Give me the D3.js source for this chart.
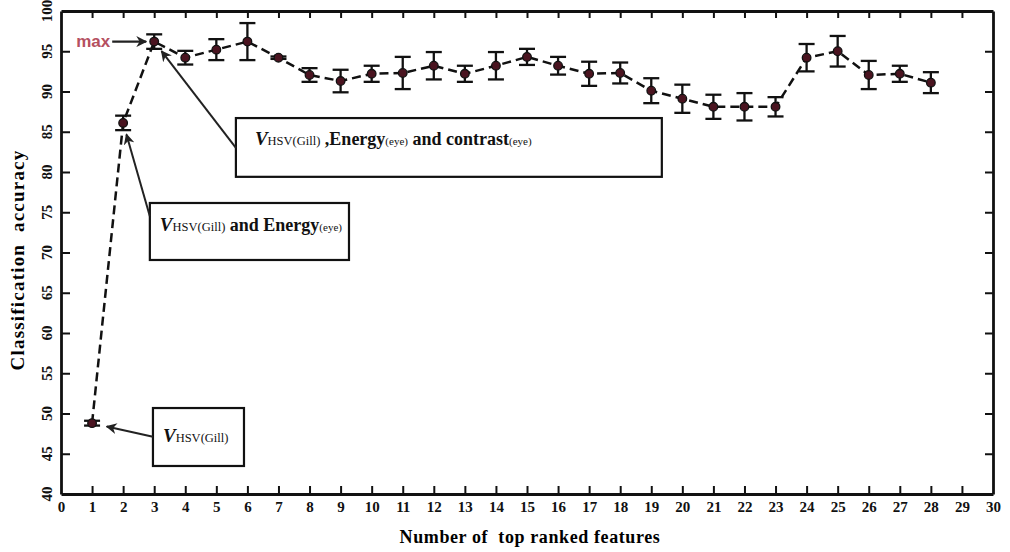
<!DOCTYPE html>
<html>
<head>
<meta charset="utf-8">
<script src="https://cdn.jsdelivr.net/npm/d3@7"></script>
<style>
  body { margin: 0; background: #fff; }
  svg { display: block; font-family: "Liberation Serif", "DejaVu Serif", serif; }
  .pre { white-space: pre; }
</style>
</head>
<body>
<div class="main"></div>
<script>
// data
const features = d3.range(1, 29);
const accuracy = [48.8, 86.1, 96.2, 94.2, 95.2, 96.2, 94.2, 92.05, 91.3, 92.2,
                  92.3, 93.2, 92.2, 93.2, 94.3, 93.2, 92.2, 92.3, 90.1, 89.1,
                  88.1, 88.1, 88.1, 94.2, 95.0, 92.05, 92.2, 91.1];
const errors   = [0.3, 0.9, 0.9, 0.85, 1.3, 2.3, 0.15, 0.85, 1.4, 1.0,
                  2.0, 1.7, 1.0, 1.7, 1.0, 1.1, 1.5, 1.3, 1.55, 1.75,
                  1.5, 1.7, 1.2, 1.7, 1.9, 1.75, 1.0, 1.3];
const xTicks = d3.range(0, 31);
const yTicks = d3.range(40, 101, 5);

// annotation boxes in data units, pointing at a feature index
const notes = [
  { x0: 5.63, x1: 19.34, y0: 86.7, y1: 79.4, from: 83.0, target: 3, pad: 19,
    parts: [["V", 19, "italic", "bold"], ["HSV(Gill)", 12.5, "normal", "normal"], [" ,Energy", 18, "normal", "bold"],
            ["(eye)", 11, "normal", "normal"], [" and contrast", 18, "normal", "bold"], ["(eye)", 11, "normal", "normal"]],
    textY: 83.3 },
  { x0: 2.86, x1: 9.27, y0: 76.15, y1: 69.07, from: 74.5, target: 2, pad: 10,
    parts: [["V", 19, "italic", "bold"], ["HSV(Gill)", 12.5, "normal", "normal"], [" and Energy", 18, "normal", "bold"],
            ["(eye)", 11, "normal", "normal"]],
    textY: 72.7 },
  { x0: 2.96, x1: 5.89, y0: 50.68, y1: 43.48, from: 47.1, target: 1, pad: 10,
    parts: [["V", 19, "italic", "bold"], ["HSV(Gill)", 12.5, "normal", "normal"]],
    textY: 46.4 }
];

const width = 1010, height = 552;
const x = d3.scaleLinear().domain([0, 30]).range([61, 993]);
const y = d3.scaleLinear().domain([40, 100]).range([494, 11]);

const svg = d3.select('.main').append('svg')
    .attr("width", width)
    .attr("height", height);

svg.append("defs").append("marker")
    .attr("id", "head")
    .attr("viewBox", "0 0 10 10")
    .attr("refX", 9).attr("refY", 5)
    .attr("markerWidth", 11).attr("markerHeight", 11)
    .attr("markerUnits", "userSpaceOnUse")
    .attr("orient", "auto")
  .append("path")
    .attr("d", "M0,0 L10,5 L0,10 L3,5 Z")
    .attr("fill", "#222");

// axes, ticks pointing inwards
const bottomAxis = svg.append("g").attr("transform", "translate(0," + y(40) + ")")
    .call(d3.axisBottom(x).tickValues(xTicks).tickSize(-8).tickSizeOuter(0).tickPadding(7));
const topAxis = svg.append("g").attr("transform", "translate(0," + y(100) + ")")
    .call(d3.axisTop(x).tickValues(xTicks).tickSize(-7).tickSizeOuter(0).tickFormat(""));
const leftAxis = svg.append("g").attr("transform", "translate(" + x(0) + ",0)")
    .call(d3.axisLeft(y).tickValues(yTicks).tickSize(-9).tickSizeOuter(0).tickFormat(""));
const rightAxis = svg.append("g").attr("transform", "translate(" + x(30) + ",0)")
    .call(d3.axisRight(y).tickValues(yTicks).tickSize(-8).tickSizeOuter(0).tickFormat(""));

[bottomAxis, topAxis, leftAxis, rightAxis].forEach(function(g) {
  g.select(".domain").attr("stroke", "#111").attr("stroke-width", 2.8);
  g.selectAll(".tick line").attr("stroke", "#111").attr("stroke-width", 2);
  g.selectAll(".tick text").attr("fill", "#111")
    .attr("font-family", "Liberation Serif").attr("font-weight", "bold").attr("font-size", 15);
});
// drop the end ticks lying on the frame
topAxis.selectAll(".tick").filter(function(d) { return d === 0 || d === 30; }).remove();
bottomAxis.selectAll(".tick line").filter(function(d) { return d === 0 || d === 30; }).remove();
leftAxis.selectAll(".tick line").filter(function(d) { return d === 40 || d === 100; }).remove();
rightAxis.selectAll(".tick").filter(function(d) { return d === 40 || d === 100; }).remove();

// y tick labels turned sideways, reading bottom to top
svg.append("g").selectAll("text").data(yTicks).enter().append("text")
    .attr("transform", function(d) { return "translate(" + (x(0) - 9) + "," + y(d) + ") rotate(-90)"; })
    .attr("text-anchor", "middle")
    .attr("fill", "#111")
    .attr("font-weight", "bold").attr("font-size", 15)
    .text(function(d) { return d; });

svg.append("text")
    .attr("class", "pre")
    .attr("transform", "translate(24," + 260 + ") rotate(-90)")
    .attr("text-anchor", "middle")
    .attr("font-weight", "bold").attr("font-size", 19).attr("letter-spacing", 1.2)
    .text("Classification  accuracy");

svg.append("text")
    .attr("class", "pre")
    .attr("x", 530).attr("y", 543)
    .attr("text-anchor", "middle")
    .attr("font-weight", "bold").attr("font-size", 18).attr("letter-spacing", 0.6)
    .text("Number of  top ranked features");

// dashed line
const pts = features.map(function(f, i) { return { f: f, v: accuracy[i], e: errors[i] }; });
svg.append("path")
    .datum(pts)
    .attr("fill", "none")
    .attr("stroke", "#111")
    .attr("stroke-width", 2.5)
    .attr("stroke-dasharray", "9,5")
    .attr("d", d3.line().x(function(d) { return x(d.f); }).y(function(d) { return y(d.v); }));

// error bars
const bars = svg.append("g").attr("stroke", "#111").attr("stroke-width", 2.3);
bars.selectAll(".eb").data(pts).enter().append("line")
    .attr("x1", function(d) { return x(d.f); }).attr("x2", function(d) { return x(d.f); })
    .attr("y1", function(d) { return y(d.v + d.e); }).attr("y2", function(d) { return y(d.v - d.e); });
bars.selectAll(".capt").data(pts).enter().append("line")
    .attr("x1", function(d) { return x(d.f) - 8; }).attr("x2", function(d) { return x(d.f) + 8; })
    .attr("y1", function(d) { return y(d.v + d.e); }).attr("y2", function(d) { return y(d.v + d.e); });
bars.selectAll(".capb").data(pts).enter().append("line")
    .attr("x1", function(d) { return x(d.f) - 8; }).attr("x2", function(d) { return x(d.f) + 8; })
    .attr("y1", function(d) { return y(d.v - d.e); }).attr("y2", function(d) { return y(d.v - d.e); });

svg.selectAll(".dot").data(pts).enter().append("circle")
    .attr("cx", function(d) { return x(d.f); })
    .attr("cy", function(d) { return y(d.v); })
    .attr("r", 4.3)
    .attr("fill", "#4a1420")
    .attr("stroke", "#111")
    .attr("stroke-width", 1.3);

// max label
const best = pts[d3.maxIndex(pts, function(d) { return d.v; })];
svg.append("text")
    .attr("x", x(best.f) - 44).attr("y", y(best.v) + 5)
    .attr("text-anchor", "end")
    .attr("font-family", "Liberation Sans").attr("font-weight", "bold").attr("font-size", 17)
    .attr("fill", "#b5505f")
    .text("max");
svg.append("line")
    .attr("x1", x(best.f) - 42).attr("x2", x(best.f) - 8)
    .attr("y1", y(best.v)).attr("y2", y(best.v))
    .attr("stroke", "#222").attr("stroke-width", 2.2)
    .attr("marker-end", "url(#head)");

// annotation boxes and arrows
notes.forEach(function(n) {
  svg.append("rect")
    .attr("x", x(n.x0)).attr("y", y(n.y0))
    .attr("width", x(n.x1) - x(n.x0)).attr("height", y(n.y1) - y(n.y0))
    .attr("fill", "#fff").attr("stroke", "#111").attr("stroke-width", 2.2);

  const t = svg.append("text")
    .attr("class", "pre")
    .attr("x", x(n.x0) + n.pad).attr("y", y(n.textY))
    .attr("fill", "#111");
  n.parts.forEach(function(p) {
    t.append("tspan")
      .attr("font-size", p[1]).attr("font-style", p[2]).attr("font-weight", p[3])
      .text(p[0]);
  });

  const p = pts[n.target - 1];
  const sx = x(n.x0), sy = y(n.from), px = x(p.f), py = y(p.v);
  const len = Math.hypot(sx - px, sy - py);
  const off = n.target === 1 ? 15 : 12;
  svg.append("line")
    .attr("x1", sx).attr("y1", sy)
    .attr("x2", px + (sx - px) / len * off).attr("y2", py + (sy - py) / len * off)
    .attr("stroke", "#222").attr("stroke-width", 2)
    .attr("marker-end", "url(#head)");
});
</script>
</body>
</html>
